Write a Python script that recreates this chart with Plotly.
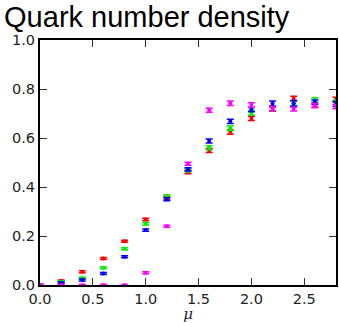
import plotly.graph_objects as go

mu = [0.0, 0.2, 0.4, 0.6, 0.8, 1.0, 1.2, 1.4, 1.6, 1.8, 2.0, 2.2, 2.4, 2.6, 2.8]

red = [0.0, 0.016, 0.054, 0.108, 0.179, 0.267, 0.355, 0.461, 0.549, 0.624, 0.680, 0.718, 0.760, 0.736, 0.756]
red_err = [0.002, 0.004, 0.004, 0.004, 0.004, 0.005, 0.006, 0.007, 0.008, 0.009, 0.009, 0.009, 0.010, 0.009, 0.010]

green = [0.0, 0.013, 0.028, 0.070, 0.148, 0.250, 0.362, 0.468, 0.560, 0.640, 0.703, 0.720, 0.742, 0.755, 0.745]
green_err = [0.002, 0.004, 0.004, 0.004, 0.004, 0.005, 0.006, 0.007, 0.008, 0.009, 0.009, 0.009, 0.009, 0.009, 0.009]

blue = [0.0, 0.009, 0.020, 0.047, 0.115, 0.224, 0.350, 0.472, 0.588, 0.668, 0.716, 0.741, 0.742, 0.746, 0.739]
blue_err = [0.002, 0.004, 0.004, 0.004, 0.004, 0.005, 0.006, 0.007, 0.008, 0.009, 0.009, 0.010, 0.011, 0.009, 0.010]

magenta = [0.0, 0.0, 0.0, 0.0, 0.0, 0.050, 0.240, 0.495, 0.713, 0.742, 0.735, 0.720, 0.718, 0.732, 0.728]
magenta_err = [0.002, 0.002, 0.002, 0.002, 0.002, 0.004, 0.004, 0.006, 0.008, 0.009, 0.009, 0.009, 0.008, 0.009, 0.009]

series = [
    (red, red_err, "#ff0000"),
    (green, green_err, "#00ee00"),
    (blue, blue_err, "#0000ff"),
    (magenta, magenta_err, "#ff00ff"),
]

fig = go.Figure()
for vals, errs, col in series:
    fig.add_trace(go.Scatter(
        x=mu, y=vals, mode="markers",
        marker=dict(color=col, size=4, symbol="circle"),
        error_y=dict(type="data", array=errs, visible=True, color=col,
                     thickness=1.5, width=3.5),
        showlegend=False,
    ))

axis_common = dict(
    showline=True, linecolor="black", linewidth=2, mirror="ticks",
    ticks="inside", ticklen=7, tickwidth=1.2, tickcolor="#333333",
    showgrid=False, zeroline=False,
    tickfont=dict(family="DejaVu Sans", size=14.5, color="#222222"),
)

fig.update_layout(
    width=339, height=323,
    margin=dict(l=40, r=1, t=40, b=38),
    plot_bgcolor="white", paper_bgcolor="white",
    title=dict(text="Quark number density", xref="container", x=0.012,
               xanchor="left", yref="container", y=0.978, yanchor="top",
               font=dict(family="Liberation Sans", size=29, color="black")),
    xaxis=dict(range=[0, 2.8], tickvals=[0, 0.5, 1.0, 1.5, 2.0, 2.5],
               ticktext=["0.0", "0.5", "1.0", "1.5", "2.0", "2.5"],
               title=dict(text="<i>μ</i>", standoff=4,
                          font=dict(family="DejaVu Serif", size=15, color="#222222")),
               **axis_common),
    yaxis=dict(range=[0, 1.0], tickvals=[0, 0.2, 0.4, 0.6, 0.8, 1.0],
               ticktext=["0.0", "0.2", "0.4", "0.6", "0.8", "1.0"],
               **axis_common),
)

fig.write_html("out.html")
